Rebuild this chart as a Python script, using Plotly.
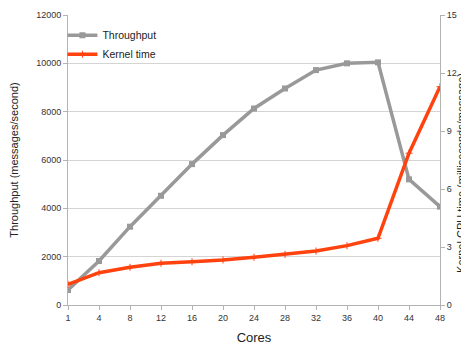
import plotly.graph_objects as go

cores = ["1", "4", "8", "12", "16", "20", "24", "28", "32", "36", "40", "44", "48"]
throughput = [620, 1820, 3240, 4520, 5830, 7030, 8130, 8960, 9720, 10000, 10040, 5200, 4070]
kernel_time = [1.07, 1.67, 1.95, 2.16, 2.24, 2.33, 2.47, 2.62, 2.79, 3.07, 3.45, 7.85, 11.29]
left_ticks = [0, 2000, 4000, 6000, 8000, 10000, 12000]
right_ticks = [0, 3, 6, 9, 12, 15]

font = "Liberation Sans, Arial, sans-serif"

fig = go.Figure()
fig.add_trace(go.Scatter(
    x=cores, y=throughput, name="Throughput", mode="lines+markers",
    line=dict(color="#999999", width=3.5),
    marker=dict(symbol="square", size=6, color="#999999"),
    yaxis="y"))
fig.add_trace(go.Scatter(
    x=cores, y=kernel_time, name="Kernel time", mode="lines+markers",
    line=dict(color="#ff420e", width=3.5),
    marker=dict(symbol="cross-thin", size=5, color="#ff420e",
                line=dict(color="#ff420e", width=1)),
    yaxis="y2"))

fig.update_layout(
    width=461, height=337,
    margin=dict(l=60, r=29, t=7, b=40),
    paper_bgcolor="white", plot_bgcolor="white",
    font=dict(family=font, size=9, color="#333333"),
    showlegend=True,
    legend=dict(x=-0.015, y=0.98, xanchor="left", yanchor="top",
                bgcolor="rgba(0,0,0,0)", font=dict(size=10.5, color="#222222"),
                itemwidth=30, tracegroupgap=0, traceorder="normal"),
    xaxis=dict(type="category", range=[0, 12], showgrid=False,
               showline=True, linecolor="#b3b3b3", linewidth=1,
               ticks="outside", ticklen=4, tickcolor="#b3b3b3",
               title=dict(text="Cores", font=dict(size=13, color="#222222"), standoff=12),
               tickfont=dict(size=9, color="#333333"), automargin=False),
    yaxis=dict(range=[0, 12000], tickvals=left_ticks,
               ticktext=[str(v) for v in left_ticks], showgrid=True,
               gridcolor="#d4d4d4", gridwidth=1, showline=True,
               linecolor="#b3b3b3", ticks="outside", ticklen=4, tickcolor="#b3b3b3",
               zeroline=False,
               title=dict(text="Throughput (messages/second)", font=dict(size=11, color="#222222")),
               tickfont=dict(size=9, color="#333333"), automargin=False),
    yaxis2=dict(range=[0, 15], tickvals=right_ticks, overlaying="y", side="right",
                showgrid=False, showline=True, linecolor="#b3b3b3",
                ticks="outside", ticklen=4, tickcolor="#b3b3b3", zeroline=False,
                tickfont=dict(size=9, color="#333333"), automargin=False),
    annotations=[dict(text="Kernel CPU time (milliseconds/message)", textangle=-90,
                      xref="paper", yref="paper", x=1.056, y=0.455,
                      xanchor="center", yanchor="middle", showarrow=False,
                      font=dict(size=11, color="#222222"))],
)

fig.write_html("out.html")
